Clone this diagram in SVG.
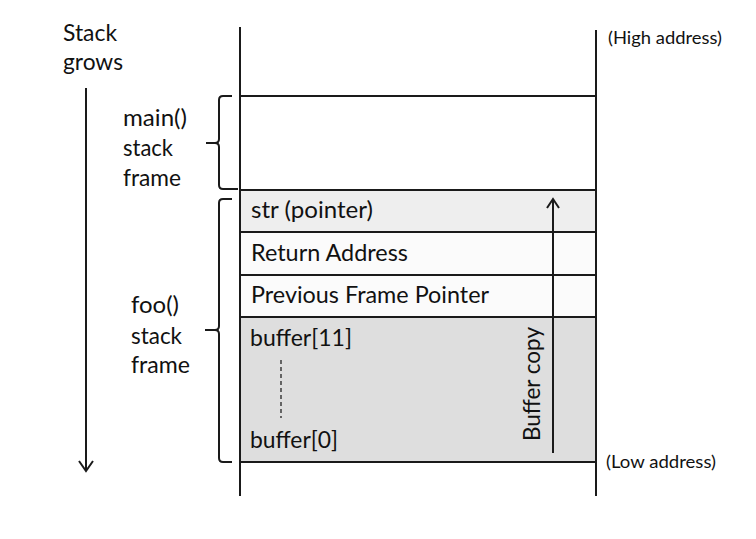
<svg xmlns="http://www.w3.org/2000/svg" width="756" height="539" viewBox="0 0 756 539">
<style>
text{font-family:Lato,"Open Sans","Liberation Sans",sans-serif;fill:#111;}
.lbl{font-size:24px;}
.addr{font-size:17px;}
.ln{stroke:#1a1a1a;stroke-width:2;fill:none;}
.br{stroke:#1a1a1a;stroke-width:2;fill:none;stroke-linejoin:round;}
.arr{stroke:#1a1a1a;stroke-width:2;fill:none;}
</style>
<rect width="756" height="539" fill="#ffffff"/>

<g id="legend-stack-grows">
<text class="lbl" x="63" y="41" textLength="54" lengthAdjust="spacingAndGlyphs">Stack</text>
<text class="lbl" x="63" y="70" textLength="60" lengthAdjust="spacingAndGlyphs">grows</text>
</g>

<g id="address-labels">
<text class="addr" x="608" y="44" textLength="114" lengthAdjust="spacingAndGlyphs">(High address)</text>
<text class="addr" x="606" y="468" textLength="110" lengthAdjust="spacingAndGlyphs">(Low address)</text>
</g>

<g id="main-frame">
<rect x="240" y="96" width="356" height="94" fill="#ffffff"/>
<text class="lbl" x="123" y="126" textLength="64" lengthAdjust="spacingAndGlyphs">main()</text>
<text class="lbl" x="123" y="156" textLength="50" lengthAdjust="spacingAndGlyphs">stack</text>
<text class="lbl" x="123" y="186" textLength="58" lengthAdjust="spacingAndGlyphs">frame</text>
<path class="br" d="M232,96 H223 Q219,96 219,100 V139 Q219,143 215,143 H206 M215,143 Q219,143 219,147 V185 Q219,189 223,189 H238"/>
</g>

<g id="str-pointer">
<rect x="240" y="190" width="356" height="42" fill="#eeeeee"/>
<text class="lbl" x="251" y="218" textLength="122" lengthAdjust="spacingAndGlyphs">str (pointer)</text>
</g>

<g id="return-address">
<rect x="240" y="232" width="356" height="43" fill="#fbfbfb"/>
<text class="lbl" x="251" y="261" textLength="157" lengthAdjust="spacingAndGlyphs">Return Address</text>
</g>

<g id="previous-frame-pointer">
<rect x="240" y="275" width="356" height="42" fill="#fbfbfb"/>
<text class="lbl" x="251" y="303" textLength="238" lengthAdjust="spacingAndGlyphs">Previous Frame Pointer</text>
</g>

<g id="buffer">
<rect x="240" y="317" width="356" height="145" fill="#dedede"/>
<text class="lbl" x="250" y="346" textLength="102" lengthAdjust="spacingAndGlyphs">buffer[11]</text>
<line x1="281" y1="360" x2="281" y2="418" stroke="#222" stroke-width="1.3" stroke-dasharray="4,3"/>
<text class="lbl" x="250" y="448" textLength="88" lengthAdjust="spacingAndGlyphs">buffer[0]</text>
<text class="lbl" transform="translate(540,441) rotate(-90)" x="0" y="0" textLength="114" lengthAdjust="spacingAndGlyphs">Buffer copy</text>
</g>

<g id="foo-frame-label">
<text class="lbl" x="131" y="313" textLength="48" lengthAdjust="spacingAndGlyphs">foo()</text>
<text class="lbl" x="131" y="344" textLength="51" lengthAdjust="spacingAndGlyphs">stack</text>
<text class="lbl" x="131" y="373" textLength="59" lengthAdjust="spacingAndGlyphs">frame</text>
<path class="br" d="M232,199 H223 Q219,199 219,203 V326 Q219,330 215,330 H205 M215,330 Q219,330 219,334 V458 Q219,462 223,462 H232"/>
</g>

<g id="stack-lines">
<line class="ln" x1="240" y1="27" x2="240" y2="496"/>
<line class="ln" x1="596" y1="30" x2="596" y2="496"/>
<line class="ln" x1="240" y1="96" x2="596" y2="96"/>
<line class="ln" x1="240" y1="190" x2="596" y2="190"/>
<line class="ln" x1="240" y1="232" x2="596" y2="232"/>
<line class="ln" x1="240" y1="275" x2="596" y2="275"/>
<line class="ln" x1="240" y1="317" x2="596" y2="317"/>
<line class="ln" x1="240" y1="462" x2="596" y2="462"/>
</g>

<g id="connectors">
<line class="arr" x1="86" y1="88" x2="86" y2="471"/>
<polyline class="arr" points="79,461 86,471 93,461"/>
<line class="arr" x1="553" y1="453" x2="553" y2="200"/>
<polyline class="arr" points="547,208 553,199 559,208"/>
</g>
</svg>
